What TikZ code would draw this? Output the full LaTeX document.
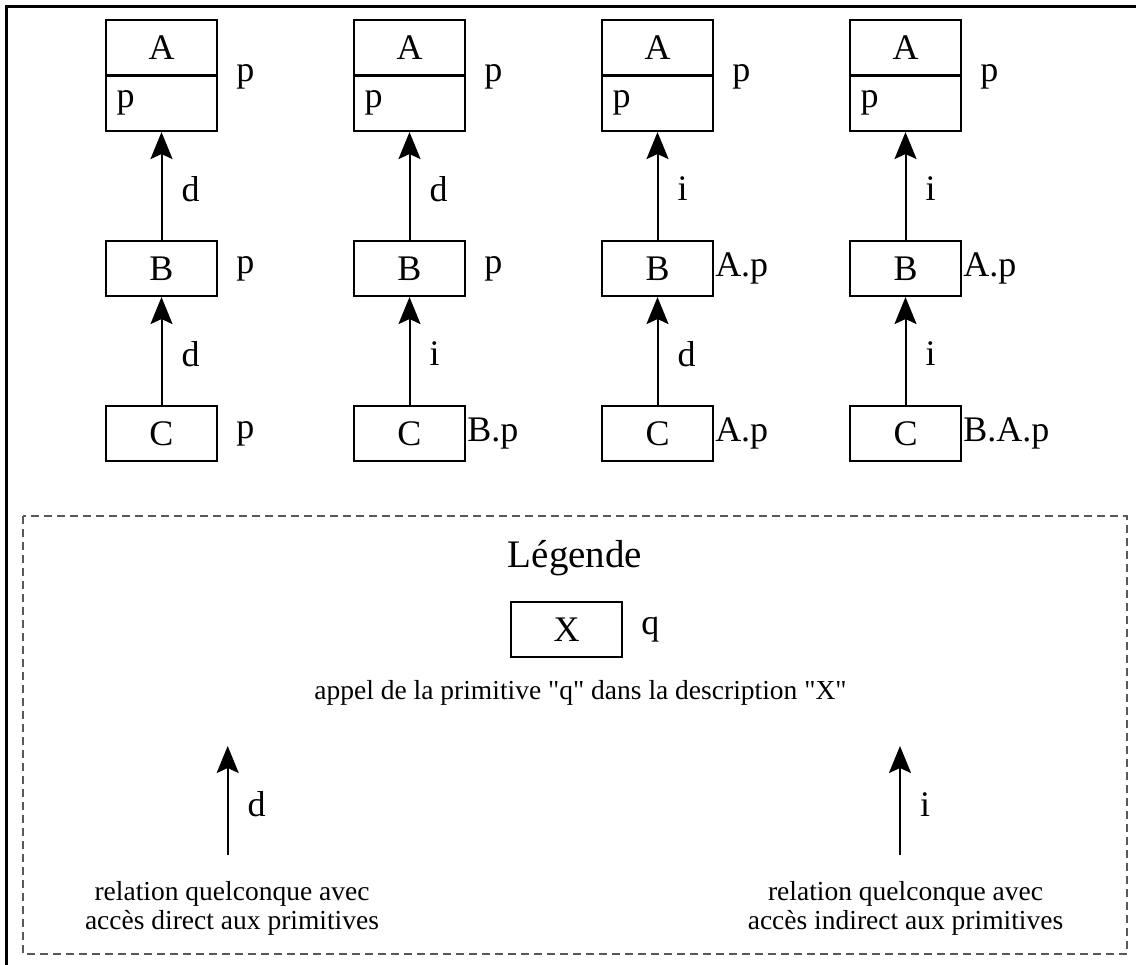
\documentclass[tikz,border=0pt]{standalone}
\usepackage{fontspec}
\setmainfont{Liberation Serif}
\usetikzlibrary{arrows.meta}
\newcommand\diagfont{\fontsize{36}{40}\selectfont}
\newcommand\legcapfont{\fontsize{27.5}{29}\selectfont}
\newcommand\legtitlefont{\fontsize{39}{44}\selectfont}
\begin{document}
\begin{tikzpicture}[x=1pt,y=-1pt,
  box/.style={draw, line width=2.1pt, minimum width=111pt, minimum height=55pt,
              inner sep=0pt, font=\diagfont},
  lab/.style={inner sep=0pt, font=\diagfont},
  legcap/.style={inner sep=0pt, font=\legcapfont, anchor=base},
  rel/.style={line width=2pt, -{Stealth[length=27pt,width=22pt,inset=5pt]}},
  legendframe/.style={draw=black!65, line width=1.1pt, dash pattern=on 8pt off 5pt},
  frameline/.style={line width=3pt, line join=miter}]
\useasboundingbox (0,0) rectangle (1136,965);

% outer frame
\draw[frameline] (6.8,965) -- (6.8,7) -- (1136,7);

% the four inheritance chains A <- B <- C
\foreach \k/\cx/\up/\lo/\lb/\sb/\lc/\sc in
  {1/161.5/d/d/p/18/p/18,
   2/409.5/d/i/p/18/B.p/1,
   3/657.5/i/d/A.p/1/A.p/1,
   4/905.5/i/i/A.p/1/B.A.p/1}
{
  \node[box, minimum height=55.5pt] (A\k) at (\cx,47.75) {A};
  \node[box, minimum height=55.5pt] (Ap\k) at (\cx,103.25) {};
  \node[lab, anchor=west] (pin\k) at ([xshift=11.5]Ap\k.west) {p};
  \node[lab, anchor=west] (la\k) at ([xshift=18]A\k.south east) {p};
  \node[box] (B\k) at (\cx,268.5) {B};
  \node[lab, anchor=west] (lb\k) at ([xshift=\sb]B\k.east) {\lb};
  \node[box] (C\k) at (\cx,433.5) {C};
  \node[lab, anchor=west] (lc\k) at ([xshift=\sc]C\k.east) {\lc};
  \draw[rel] (B\k) -- node[lab, anchor=west, xshift=19, yshift=-3] (ru\k) {\up} (Ap\k);
  \draw[rel] (C\k) -- node[lab, anchor=west, xshift=19, yshift=-3] (rl\k) {\lo} (B\k);
}

% legend
\draw[legendframe] (23,516) rectangle (1127,954);
\node[font=\legtitlefont, inner sep=0pt, anchor=base] (leg) at (575,567) {Légende};
\node[box] (X) at (566.5,629.5) {X};
\node[lab, anchor=west] (q) at ([xshift=18]X.east) {q};
\node[legcap] (xcap) at (580.5,699)
  {appel de la primitive \textquotedbl q\textquotedbl{} dans la description \textquotedbl X\textquotedbl};

\coordinate (d0) at (227.7,855);
\coordinate (d1) at (227.7,746);
\draw[rel] (d0) -- node[lab, anchor=west, xshift=19, yshift=-4] (dl) {d} (d1);
\node[legcap] (dc1) at (232,900) {relation quelconque avec};
\node[legcap] (dc2) at (232,929) {accès direct aux primitives};

\coordinate (i0) at (900,855);
\coordinate (i1) at (900,746);
\draw[rel] (i0) -- node[lab, anchor=west, xshift=19, yshift=-4] (il) {i} (i1);
\node[legcap] (ic1) at (905.5,900) {relation quelconque avec};
\node[legcap] (ic2) at (905.5,929) {accès indirect aux primitives};
\end{tikzpicture}
\end{document}
